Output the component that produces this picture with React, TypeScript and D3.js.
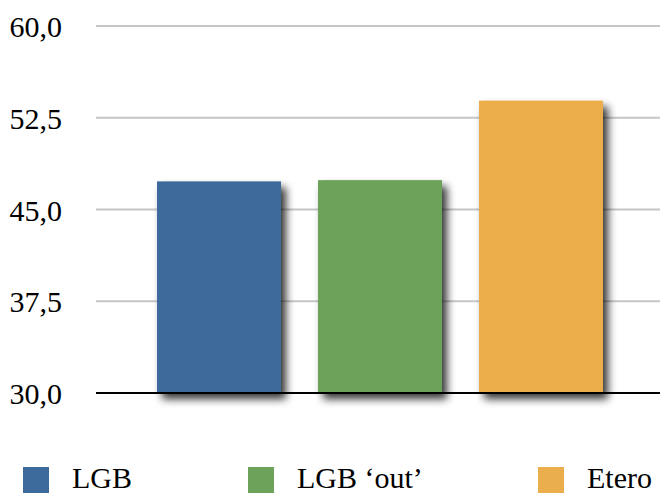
import React from "react";
import * as d3 from "d3";

const categories = ["LGB", "LGB ‘out’", "Etero"];
const values = [47.3, 47.4, 53.9];
const colors = ["#3d6b9b", "#6ca25a", "#ebae4c"];
const yTicks = [30, 37.5, 45, 52.5, 60];

const W = 660;
const H = 495;

export default function App() {
  const y = d3.scaleLinear().domain([30, 60]).range([393, 26]);
  const x = d3
    .scaleBand<string>()
    .domain(categories)
    .range([138.5, 621.5])
    .paddingInner(0.23)
    .paddingOuter(0.115);
  const fmt = (v: number) => v.toFixed(1).replace(".", ",");
  const legendX = [23, 248, 538];

  return (
    <svg
      width={W}
      height={H}
      style={{ position: "absolute", left: 0, top: 0, background: "#fff" }}
      fontFamily="'Liberation Serif', 'Times New Roman', serif"
    >
      <defs>
        <filter id="sh" x="-20%" y="-20%" width="150%" height="150%">
          <feGaussianBlur in="SourceAlpha" stdDeviation="4.5" />
          <feOffset dx="5" dy="6" result="ob" />
          <feComponentTransfer>
            <feFuncA type="linear" slope="0.8" />
          </feComponentTransfer>
          <feMerge>
            <feMergeNode />
            <feMergeNode in="SourceGraphic" />
          </feMerge>
        </filter>
      </defs>
      {yTicks.map((t) => (
        <g key={t}>
          {t !== 30 && (
            <line x1={96} x2={W} y1={y(t)} y2={y(t)} stroke="#c6c6c6" strokeWidth={2} />
          )}
          <text x={62} y={y(t) + 11} textAnchor="end" fontSize={30} fill="#000">
            {fmt(t)}
          </text>
        </g>
      ))}
      {categories.map((c, i) => (
        <rect
          key={c}
          x={x(c)}
          y={y(values[i])}
          width={x.bandwidth()}
          height={y(30) - y(values[i])}
          fill={colors[i]}
          filter="url(#sh)"
        />
      ))}
      <line x1={96} x2={W} y1={y(30)} y2={y(30)} stroke="#000" strokeWidth={2} />
      {categories.map((c, i) => (
        <g key={"l" + c}>
          <rect x={legendX[i]} y={467} width={26} height={26} fill={colors[i]} />
          <text x={legendX[i] + 49} y={488} fontSize={30} fill="#000">
            {c}
          </text>
        </g>
      ))}
    </svg>
  );
}
